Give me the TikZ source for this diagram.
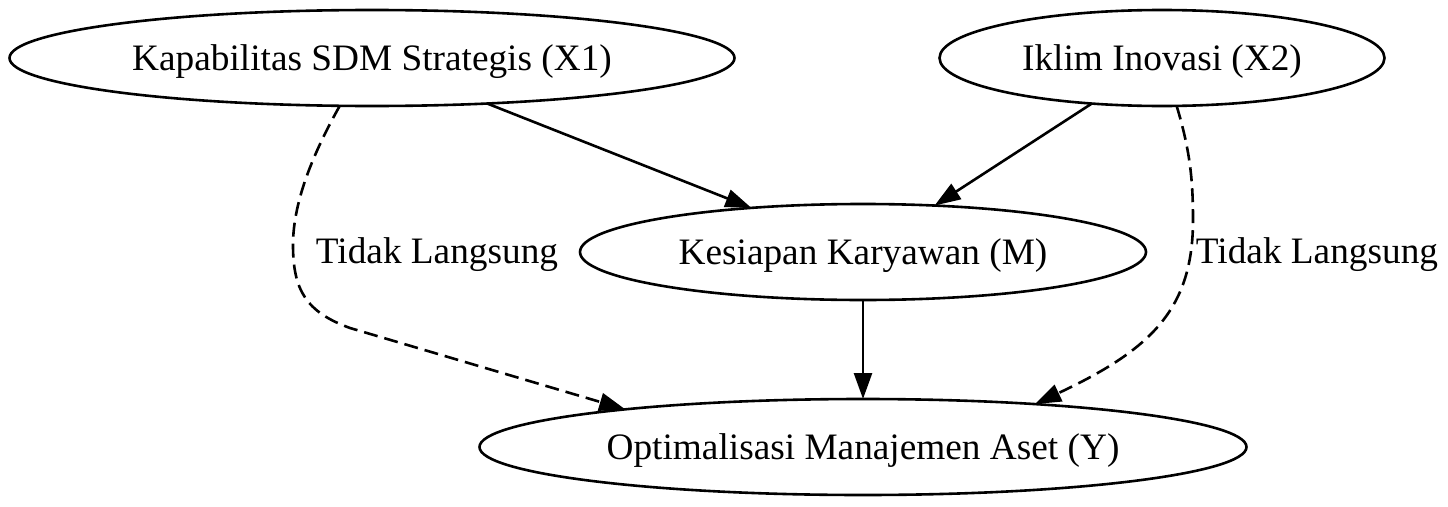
\documentclass[tikz,border=0pt]{standalone}
\usepackage{fontspec}
\setmainfont{Liberation Serif}
\usetikzlibrary{shapes.geometric,arrows.meta}
\begin{document}
\begin{tikzpicture}[x=1pt,y=-1pt,
  every node/.style={font=\fontsize{37.3}{44}\selectfont},
  oval/.style={ellipse,draw,line width=2.6pt,inner sep=0pt,outer sep=0pt,
    text height=25pt,text depth=1pt,minimum height=96pt},
  edge/.style={line width=2.6pt,-{Triangle[length=26pt,width=18pt]}},
  dashedge/.style={edge,dash pattern=on 14pt off 7pt},
  lbl/.style={anchor=base,inner sep=0pt}]
\useasboundingbox (0,0) rectangle (1448,506);
\node[oval,minimum width=725pt] (X1) at (372,58) {Kapabilitas SDM Strategis (X1)};
\node[oval,minimum width=445pt] (X2) at (1162,58) {Iklim Inovasi (X2)};
\node[oval,minimum width=566pt] (M) at (863,252) {Kesiapan Karyawan (M)};
\node[oval,minimum width=767pt] (Y) at (863,447) {Optimalisasi Manajemen Aset (Y)};
\draw[edge] (X1) -- (M);
\draw[edge] (X2) -- (M);
\draw[edge] (M) -- (Y);
\draw[dashedge] (X1.236) .. controls (315,150) and (293,200) .. (293,245)
  .. controls (293,290) and (306,312) .. (350,328) -- (Y.171.4);
\draw[dashedge] (X2.287.7) .. controls (1190,150) and (1193,180) .. (1193,220)
  .. controls (1193,310) and (1150,350) .. (Y.14.2);
\node[lbl] (L1) at (437,263) {Tidak Langsung};
\node[lbl] (L2) at (1317,263) {Tidak Langsung};
\end{tikzpicture}
\end{document}
